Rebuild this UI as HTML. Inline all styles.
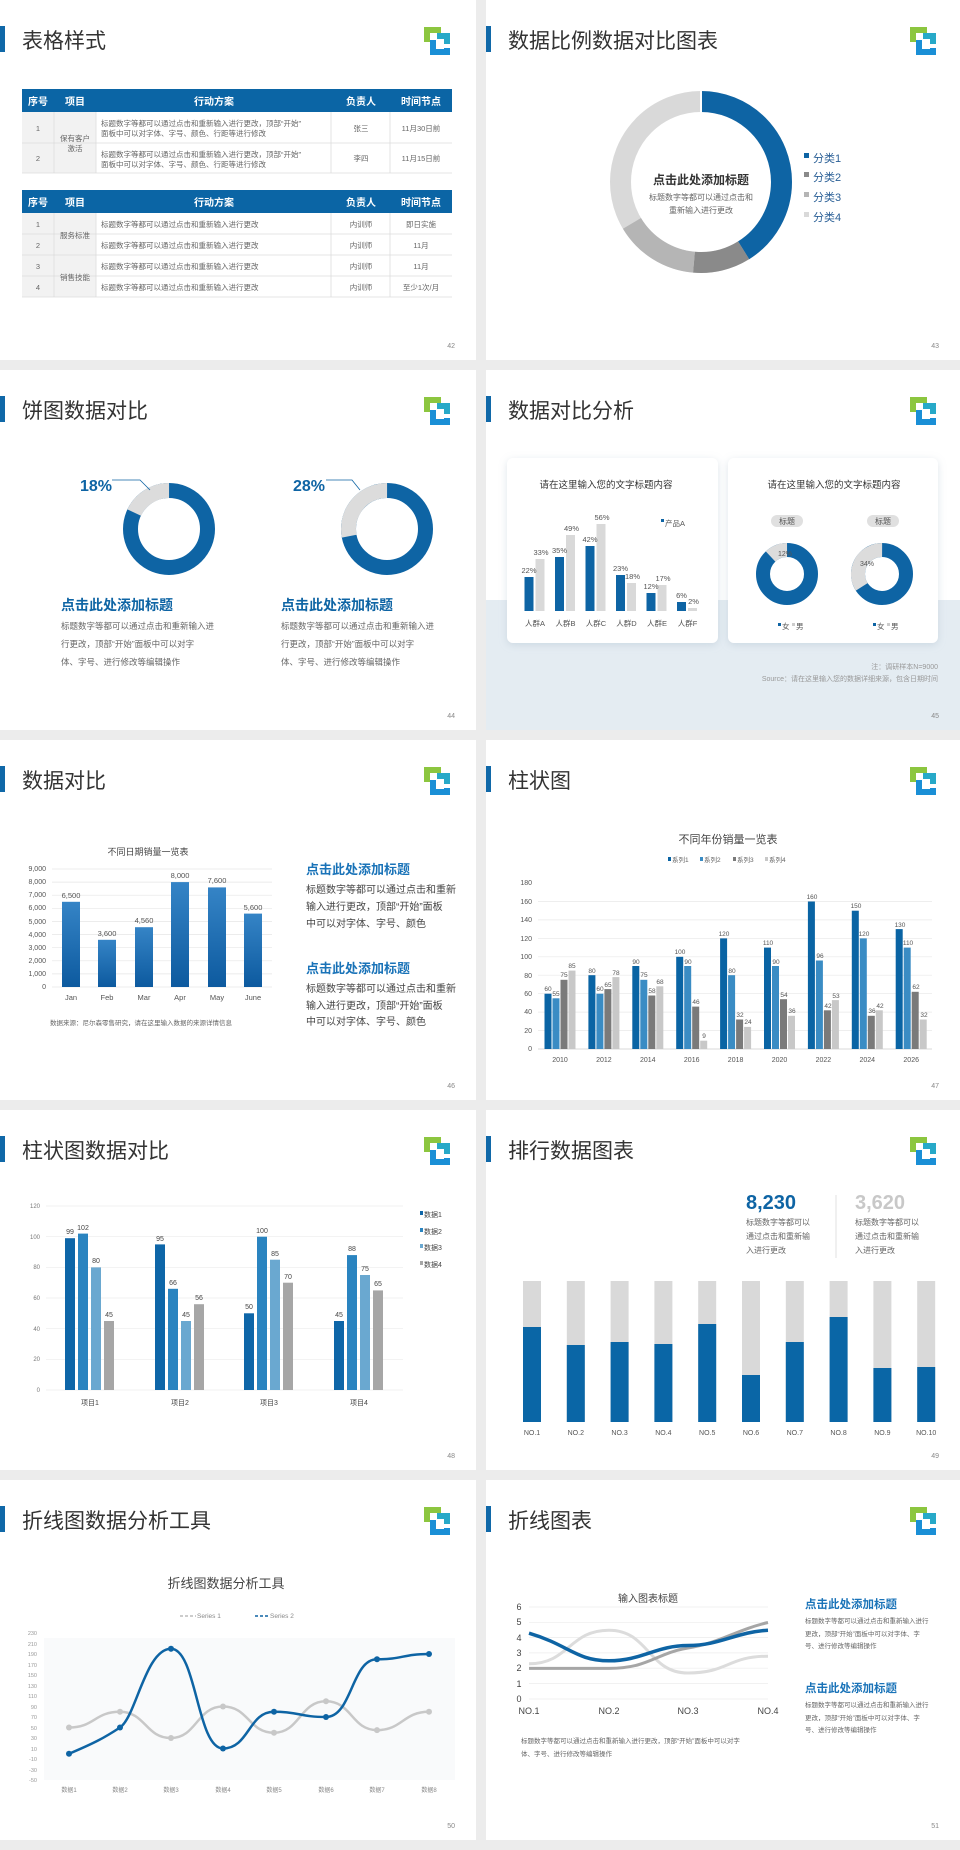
<!DOCTYPE html>
<html><head><meta charset="utf-8">
<style>
html,body{margin:0;padding:0;background:#ececec;}
body{width:960px;height:1850px;position:relative;overflow:hidden;font-family:"Liberation Sans","Noto Sans CJK SC",sans-serif;}
.s{position:absolute;background:#fff;width:476px;height:360px;overflow:hidden;}
.s svg{position:absolute;left:0;top:0;}
text{font-family:"Liberation Sans","Noto Sans CJK SC",sans-serif;}
</style></head><body>

<svg width="0" height="0" style="position:absolute">
<defs>
<g id="hdr-logo">
<path d="M427,42 V30 H441" fill="none" stroke="#8cc63f" stroke-width="6"/>
<path d="M437,36 H447 V44" fill="none" stroke="#27a9c8" stroke-width="6"/>
<path d="M447,48 V52 H433 V40" fill="none" stroke="#1a8fd6" stroke-width="6"/>
</g>
<linearGradient id="bg5" x1="0" y1="0" x2="0" y2="1"><stop offset="0" stop-color="#3584c6"/><stop offset="1" stop-color="#0d5a9f"/></linearGradient>
<filter id="sh" x="-10%" y="-10%" width="120%" height="130%"><feDropShadow dx="0" dy="2" stdDeviation="4" flood-color="#9fb3c4" flood-opacity="0.35"/></filter>
</defs>
</svg>

<!-- Slide 42 table -->
<div class="s" style="left:0;top:0">
<svg width="476" height="360">
<rect x="0" y="26" width="5" height="26" fill="#1068a8"/>
<text x="22" y="48" font-size="21" fill="#333">表格样式</text>
<use href="#hdr-logo"/>
<!-- table 1 -->
<rect x="22" y="89" width="430" height="23" fill="#0b65a5"/>
<g font-size="10" font-weight="bold" fill="#fff" text-anchor="middle">
<text x="38" y="105">序号</text><text x="75" y="105">项目</text><text x="214" y="105">行动方案</text><text x="361" y="105">负责人</text><text x="421" y="105">时间节点</text>
</g>
<rect x="22" y="112" width="74" height="61" fill="#f2f2f2"/>
<g stroke="#dcdcdc" stroke-width="0.8">
<line x1="22" y1="143" x2="452" y2="143"/><line x1="22" y1="173" x2="452" y2="173"/>
<line x1="54" y1="112" x2="54" y2="173"/><line x1="96" y1="112" x2="96" y2="173"/><line x1="331" y1="112" x2="331" y2="173"/><line x1="390" y1="112" x2="390" y2="173"/>
</g>
<g font-size="7.5" fill="#666">
<text x="38" y="131" text-anchor="middle">1</text><text x="38" y="161" text-anchor="middle">2</text>
<text x="75" y="141" text-anchor="middle">保有客户</text><text x="75" y="151" text-anchor="middle">激活</text>
<text x="101" y="126">标题数字等都可以通过点击和重新输入进行更改，顶部“开始”</text>
<text x="101" y="136">面板中可以对字体、字号、颜色、行距等进行修改</text>
<text x="101" y="157">标题数字等都可以通过点击和重新输入进行更改，顶部“开始”</text>
<text x="101" y="167">面板中可以对字体、字号、颜色、行距等进行修改</text>
<text x="361" y="131" text-anchor="middle">张三</text><text x="361" y="161" text-anchor="middle">李四</text>
<text x="421" y="131" text-anchor="middle">11月30日前</text><text x="421" y="161" text-anchor="middle">11月15日前</text>
</g>
<!-- table 2 -->
<rect x="22" y="190" width="430" height="23" fill="#0b65a5"/>
<g font-size="10" font-weight="bold" fill="#fff" text-anchor="middle">
<text x="38" y="206">序号</text><text x="75" y="206">项目</text><text x="214" y="206">行动方案</text><text x="361" y="206">负责人</text><text x="421" y="206">时间节点</text>
</g>
<rect x="22" y="213" width="74" height="84" fill="#f2f2f2"/>
<g stroke="#dcdcdc" stroke-width="0.8">
<line x1="22" y1="234" x2="452" y2="234"/><line x1="22" y1="255" x2="452" y2="255"/><line x1="22" y1="276" x2="452" y2="276"/><line x1="22" y1="297" x2="452" y2="297"/>
<line x1="54" y1="213" x2="54" y2="297"/><line x1="96" y1="213" x2="96" y2="297"/><line x1="331" y1="213" x2="331" y2="297"/><line x1="390" y1="213" x2="390" y2="297"/>
</g>
<g font-size="7.5" fill="#666">
<text x="38" y="227" text-anchor="middle">1</text><text x="38" y="248" text-anchor="middle">2</text><text x="38" y="269" text-anchor="middle">3</text><text x="38" y="290" text-anchor="middle">4</text>
<text x="75" y="238" text-anchor="middle">服务标准</text><text x="75" y="280" text-anchor="middle">销售技能</text>
<text x="101" y="227">标题数字等都可以通过点击和重新输入进行更改</text>
<text x="101" y="248">标题数字等都可以通过点击和重新输入进行更改</text>
<text x="101" y="269">标题数字等都可以通过点击和重新输入进行更改</text>
<text x="101" y="290">标题数字等都可以通过点击和重新输入进行更改</text>
<text x="361" y="227" text-anchor="middle">内训师</text><text x="361" y="248" text-anchor="middle">内训师</text><text x="361" y="269" text-anchor="middle">内训师</text><text x="361" y="290" text-anchor="middle">内训师</text>
<text x="421" y="227" text-anchor="middle">即日实施</text><text x="421" y="248" text-anchor="middle">11月</text><text x="421" y="269" text-anchor="middle">11月</text><text x="421" y="290" text-anchor="middle">至少1次/月</text>
</g>
<text x="455" y="348" font-size="7" fill="#888" text-anchor="end">42</text>
</svg></div>

<!-- Slide 43 donut -->
<div class="s" style="left:486px;top:0;width:474px">
<svg width="474" height="360">
<rect x="0" y="26" width="5" height="26" fill="#1068a8"/>
<text x="22" y="48" font-size="21" fill="#333">数据比例数据对比图表</text>
<use href="#hdr-logo"/>
<g fill="none" stroke-width="21">
<circle cx="215" cy="182" r="80.5" stroke="#d9d9d9"/>
<circle cx="215" cy="182" r="80.5" stroke="#0e64a4" stroke-dasharray="207.9 1000" transform="rotate(-90 215 182)"/>
<circle cx="215" cy="182" r="80.5" stroke="#8a8a8a" stroke-dasharray="52 1000" transform="rotate(58 215 182)"/>
<circle cx="215" cy="182" r="80.5" stroke="#b5b5b5" stroke-dasharray="75.9 1000" transform="rotate(95 215 182)"/>
</g>
<g stroke="#fff" stroke-width="2">
<line x1="215" y1="182" x2="215" y2="90"/>
</g>
<circle cx="215" cy="182" r="69" fill="#fff"/>
<text x="215" y="184" font-size="12" font-weight="bold" fill="#333" text-anchor="middle">点击此处添加标题</text>
<text x="215" y="200" font-size="8" fill="#666" text-anchor="middle">标题数字等都可以通过点击和</text>
<text x="215" y="213" font-size="8" fill="#666" text-anchor="middle">重新输入进行更改</text>
<g font-size="11" fill="#2a5f96">
<rect x="318" y="153" width="5" height="5" fill="#0e64a4"/><text x="327" y="162">分类1</text>
<rect x="318" y="172" width="5" height="5" fill="#8a8a8a"/><text x="327" y="181">分类2</text>
<rect x="318" y="192" width="5" height="5" fill="#b5b5b5"/><text x="327" y="201">分类3</text>
<rect x="318" y="212" width="5" height="5" fill="#d9d9d9"/><text x="327" y="221">分类4</text>
</g>
<text x="453" y="348" font-size="7" fill="#888" text-anchor="end">43</text>
</svg></div>

<!-- Slide 44 pies -->
<div class="s" style="left:0;top:370px">
<svg width="476" height="360">
<rect x="0" y="26" width="5" height="26" fill="#1068a8"/>
<text x="22" y="48" font-size="21" fill="#333">饼图数据对比</text>
<use href="#hdr-logo"/>
<g fill="none" stroke-width="15">
<circle cx="169" cy="159" r="38.5" stroke="#0e64a4"/>
<circle cx="169" cy="159" r="38.5" stroke="#dcdcdc" stroke-dasharray="43.5 1000" transform="rotate(205.2 169 159)"/>
<circle cx="387" cy="159" r="38.5" stroke="#0e64a4"/>
<circle cx="387" cy="159" r="38.5" stroke="#dcdcdc" stroke-dasharray="67.7 1000" transform="rotate(169.2 387 159)"/>
</g>
<text x="80" y="121" font-size="16" font-weight="bold" fill="#0e64a4">18%</text>
<polyline points="112,110 140,110 150,120" fill="none" stroke="#0e64a4" stroke-width="0.8"/>
<text x="293" y="121" font-size="16" font-weight="bold" fill="#0e64a4">28%</text>
<polyline points="326,110 352,110 360,120" fill="none" stroke="#0e64a4" stroke-width="0.8"/>
<text x="61" y="240" font-size="14" font-weight="bold" fill="#0e64a4">点击此处添加标题</text>
<g font-size="8.5" fill="#666"><text x="61" y="259">标题数字等都可以通过点击和重新输入进</text><text x="61" y="277">行更改，顶部“开始”面板中可以对字</text><text x="61" y="295">体、字号、进行修改等编辑操作</text></g>
<text x="281" y="240" font-size="14" font-weight="bold" fill="#0e64a4">点击此处添加标题</text>
<g font-size="8.5" fill="#666"><text x="281" y="259">标题数字等都可以通过点击和重新输入进</text><text x="281" y="277">行更改，顶部“开始”面板中可以对字</text><text x="281" y="295">体、字号、进行修改等编辑操作</text></g>
<text x="455" y="348" font-size="7" fill="#888" text-anchor="end">44</text>
</svg></div>

<!-- Slide 45 -->
<div class="s" style="left:486px;top:370px;width:474px">
<svg width="474" height="360">
<rect x="0" y="230" width="474" height="130" fill="#e4ecf2"/>
<rect x="0" y="26" width="5" height="26" fill="#1068a8"/>
<text x="22" y="48" font-size="21" fill="#333">数据对比分析</text>
<use href="#hdr-logo"/>
<rect x="21" y="88" width="211" height="185" rx="6" fill="#fff" filter="url(#sh)"/>
<rect x="242" y="88" width="210" height="185" rx="6" fill="#fff" filter="url(#sh)"/>
<text x="120" y="118" font-size="9.5" fill="#333" text-anchor="middle">请在这里输入您的文字标题内容</text>
<text x="348" y="118" font-size="9.5" fill="#333" text-anchor="middle">请在这里输入您的文字标题内容</text>
<g fill="#0e64a4">
<rect x="38.5" y="207" width="9" height="34"/><rect x="69" y="187" width="9" height="54"/><rect x="99.5" y="176" width="9" height="65"/><rect x="130" y="205" width="9" height="36"/><rect x="160.5" y="223" width="9" height="18"/><rect x="191" y="232" width="9" height="9"/>
</g>
<g fill="#d9d9d9">
<rect x="49.5" y="189" width="9" height="52"/><rect x="80" y="165" width="9" height="76"/><rect x="110.5" y="154" width="9" height="87"/><rect x="141" y="213" width="9" height="28"/><rect x="171.5" y="215" width="9" height="26"/><rect x="202" y="238" width="9" height="3"/>
</g>
<g font-size="7.5" fill="#555" text-anchor="middle">
<text x="43" y="203">22%</text><text x="73.5" y="183">35%</text><text x="104" y="172">42%</text><text x="134.5" y="201">23%</text><text x="165" y="219">12%</text><text x="195.5" y="228">6%</text>
<text x="55" y="185">33%</text><text x="85.5" y="161">49%</text><text x="116" y="150">56%</text><text x="146.5" y="209">18%</text><text x="177" y="211">17%</text><text x="207.5" y="234">2%</text>
<text x="49" y="256">人群A</text><text x="79.5" y="256">人群B</text><text x="110" y="256">人群C</text><text x="140.5" y="256">人群D</text><text x="171" y="256">人群E</text><text x="201.5" y="256">人群F</text>
</g>
<rect x="175" y="149" width="3" height="3" fill="#0e64a4"/><text x="179" y="156" font-size="7.5" fill="#555">产品A</text>
<rect x="285" y="145" width="32" height="12" rx="6" fill="#e0e0e0"/><text x="301" y="154" font-size="8" fill="#555" text-anchor="middle">标题</text>
<rect x="381" y="145" width="32" height="12" rx="6" fill="#e0e0e0"/><text x="397" y="154" font-size="8" fill="#555" text-anchor="middle">标题</text>
<g fill="none" stroke-width="14">
<circle cx="301" cy="204" r="24" stroke="#0e64a4"/>
<circle cx="301" cy="204" r="24" stroke="#dcdcdc" stroke-dasharray="18.1 1000" transform="rotate(226.8 301 204)"/>
<circle cx="396" cy="204" r="24" stroke="#0e64a4"/>
<circle cx="396" cy="204" r="24" stroke="#dcdcdc" stroke-dasharray="51.3 1000" transform="rotate(147.6 396 204)"/>
</g>
<g font-size="7" fill="#555"><text x="292" y="186">12%</text><text x="374" y="196">34%</text></g>
<g font-size="7.5" fill="#555">
<rect x="292" y="253" width="3" height="3" fill="#0e64a4"/><text x="296" y="259">女</text><rect x="306" y="253" width="3" height="3" fill="#ccc"/><text x="310" y="259">男</text>
<rect x="387" y="253" width="3" height="3" fill="#0e64a4"/><text x="391" y="259">女</text><rect x="401" y="253" width="3" height="3" fill="#ccc"/><text x="405" y="259">男</text>
</g>
<text x="452" y="299" font-size="7" fill="#999" text-anchor="end">注：调研样本N=9000</text>
<text x="452" y="311" font-size="7" fill="#999" text-anchor="end">Source：请在这里输入您的数据详细来源，包含日期时间</text>
<text x="453" y="348" font-size="7" fill="#888" text-anchor="end">45</text>
</svg></div>

<!-- Slide 46 -->
<div class="s" style="left:0;top:740px">
<svg width="476" height="360">
<rect x="0" y="26" width="5" height="26" fill="#1068a8"/>
<text x="22" y="48" font-size="21" fill="#333">数据对比</text>
<use href="#hdr-logo"/>
<text x="148" y="115" font-size="9" fill="#444" text-anchor="middle">不同日期销量一览表</text>
<g stroke="#e6e6e6" stroke-width="0.7">
<line x1="52" y1="129" x2="272" y2="129"/><line x1="52" y1="142.1" x2="272" y2="142.1"/><line x1="52" y1="155.2" x2="272" y2="155.2"/><line x1="52" y1="168.3" x2="272" y2="168.3"/><line x1="52" y1="181.4" x2="272" y2="181.4"/><line x1="52" y1="194.6" x2="272" y2="194.6"/><line x1="52" y1="207.7" x2="272" y2="207.7"/><line x1="52" y1="220.8" x2="272" y2="220.8"/><line x1="52" y1="233.9" x2="272" y2="233.9"/><line x1="52" y1="247" x2="272" y2="247"/>
</g>
<g font-size="7" fill="#555" text-anchor="end">
<text x="46" y="131">9,000</text><text x="46" y="144">8,000</text><text x="46" y="157">7,000</text><text x="46" y="170">6,000</text><text x="46" y="184">5,000</text><text x="46" y="197">4,000</text><text x="46" y="210">3,000</text><text x="46" y="223">2,000</text><text x="46" y="236">1,000</text><text x="46" y="249">0</text>
</g>
<g fill="url(#bg5)">
<rect x="62" y="161.8" width="18" height="85.2"/><rect x="98" y="199.8" width="18" height="47.2"/><rect x="135" y="187.2" width="18" height="59.8"/><rect x="171" y="142.1" width="18" height="104.9"/><rect x="208" y="147.4" width="18" height="99.6"/><rect x="244" y="173.6" width="18" height="73.4"/>
</g>
<g font-size="7.5" fill="#555" text-anchor="middle">
<text x="71" y="158">6,500</text><text x="107" y="196">3,600</text><text x="144" y="183">4,560</text><text x="180" y="138">8,000</text><text x="217" y="143">7,600</text><text x="253" y="170">5,600</text>
<text x="71" y="260">Jan</text><text x="107" y="260">Feb</text><text x="144" y="260">Mar</text><text x="180" y="260">Apr</text><text x="217" y="260">May</text><text x="253" y="260">June</text>
</g>
<text x="50" y="285" font-size="6.5" fill="#666">数据来源：尼尔森零售研究，请在这里输入数据的来源详情信息</text>
<text x="306" y="134" font-size="13" font-weight="bold" fill="#1a73b8">点击此处添加标题</text>
<g font-size="10" fill="#444"><text x="306" y="153">标题数字等都可以通过点击和重新</text><text x="306" y="170">输入进行更改，顶部“开始”面板</text><text x="306" y="187">中可以对字体、字号、颜色</text></g>
<text x="306" y="233" font-size="13" font-weight="bold" fill="#1a73b8">点击此处添加标题</text>
<g font-size="10" fill="#444"><text x="306" y="252">标题数字等都可以通过点击和重新</text><text x="306" y="269">输入进行更改，顶部“开始”面板</text><text x="306" y="285">中可以对字体、字号、颜色</text></g>
<text x="455" y="348" font-size="7" fill="#888" text-anchor="end">46</text>
</svg></div>

<!-- Slide 47 -->
<div class="s" style="left:486px;top:740px;width:474px">
<svg width="474" height="360">
<rect x="0" y="26" width="5" height="26" fill="#1068a8"/>
<text x="22" y="48" font-size="21" fill="#333">柱状图</text>
<use href="#hdr-logo"/>
<text x="242" y="103" font-size="11" fill="#444" text-anchor="middle">不同年份销量一览表</text>
<g font-size="6.5" fill="#666">
<rect x="182" y="117" width="3" height="4" fill="#0a64a4"/><text x="186" y="122">系列1</text>
<rect x="214" y="117" width="3" height="4" fill="#3a8cc4"/><text x="218" y="122">系列2</text>
<rect x="247" y="117" width="3" height="4" fill="#7a7a7a"/><text x="251" y="122">系列3</text>
<rect x="279" y="117" width="3" height="4" fill="#c8c8c8"/><text x="283" y="122">系列4</text>
</g>
<g stroke="#e8e8e8" stroke-width="0.7">
<line x1="52" y1="161.4" x2="446" y2="161.4"/><line x1="52" y1="179.9" x2="446" y2="179.9"/><line x1="52" y1="198.3" x2="446" y2="198.3"/><line x1="52" y1="216.8" x2="446" y2="216.8"/><line x1="52" y1="235.2" x2="446" y2="235.2"/><line x1="52" y1="253.7" x2="446" y2="253.7"/><line x1="52" y1="272.1" x2="446" y2="272.1"/><line x1="52" y1="290.6" x2="446" y2="290.6"/><line x1="52" y1="309" x2="446" y2="309" stroke="#ccc"/>
</g>
<g font-size="7" fill="#555" text-anchor="end">
<text x="46" y="145">180</text><text x="46" y="164">160</text><text x="46" y="182">140</text><text x="46" y="201">120</text><text x="46" y="219">100</text><text x="46" y="238">80</text><text x="46" y="256">60</text><text x="46" y="274">40</text><text x="46" y="293">20</text><text x="46" y="311">0</text>
</g>
<g id="bars6">
<g transform="translate(74,0)"><rect x="-15.5" y="253.7" width="7" height="55.3" fill="#0a64a4"/><rect x="-7.5" y="258.3" width="7" height="50.7" fill="#3a8cc4"/><rect x="0.5" y="239.8" width="7" height="69.2" fill="#7a7a7a"/><rect x="8.5" y="230.6" width="7" height="78.4" fill="#c8c8c8"/></g>
<g transform="translate(117.9,0)"><rect x="-15.5" y="235.2" width="7" height="73.8" fill="#0a64a4"/><rect x="-7.5" y="253.7" width="7" height="55.3" fill="#3a8cc4"/><rect x="0.5" y="249.1" width="7" height="59.9" fill="#7a7a7a"/><rect x="8.5" y="237.1" width="7" height="71.9" fill="#c8c8c8"/></g>
<g transform="translate(161.8,0)"><rect x="-15.5" y="226" width="7" height="83" fill="#0a64a4"/><rect x="-7.5" y="239.8" width="7" height="69.2" fill="#3a8cc4"/><rect x="0.5" y="255.5" width="7" height="53.5" fill="#7a7a7a"/><rect x="8.5" y="246.3" width="7" height="62.7" fill="#c8c8c8"/></g>
<g transform="translate(205.7,0)"><rect x="-15.5" y="216.8" width="7" height="92.2" fill="#0a64a4"/><rect x="-7.5" y="226" width="7" height="83" fill="#3a8cc4"/><rect x="0.5" y="266.6" width="7" height="42.4" fill="#7a7a7a"/><rect x="8.5" y="300.7" width="7" height="8.3" fill="#c8c8c8"/></g>
<g transform="translate(249.6,0)"><rect x="-15.5" y="198.4" width="7" height="110.6" fill="#0a64a4"/><rect x="-7.5" y="235.2" width="7" height="73.8" fill="#3a8cc4"/><rect x="0.5" y="279.5" width="7" height="29.5" fill="#7a7a7a"/><rect x="8.5" y="286.9" width="7" height="22.1" fill="#c8c8c8"/></g>
<g transform="translate(293.5,0)"><rect x="-15.5" y="207.6" width="7" height="101.4" fill="#0a64a4"/><rect x="-7.5" y="226" width="7" height="83" fill="#3a8cc4"/><rect x="0.5" y="259.2" width="7" height="49.8" fill="#7a7a7a"/><rect x="8.5" y="275.8" width="7" height="33.2" fill="#c8c8c8"/></g>
<g transform="translate(337.4,0)"><rect x="-15.5" y="161.5" width="7" height="147.5" fill="#0a64a4"/><rect x="-7.5" y="220.5" width="7" height="88.5" fill="#3a8cc4"/><rect x="0.5" y="270.3" width="7" height="38.7" fill="#7a7a7a"/><rect x="8.5" y="260.1" width="7" height="48.9" fill="#c8c8c8"/></g>
<g transform="translate(381.3,0)"><rect x="-15.5" y="170.7" width="7" height="138.3" fill="#0a64a4"/><rect x="-7.5" y="198.4" width="7" height="110.6" fill="#3a8cc4"/><rect x="0.5" y="275.8" width="7" height="33.2" fill="#7a7a7a"/><rect x="8.5" y="270.3" width="7" height="38.7" fill="#c8c8c8"/></g>
<g transform="translate(425.2,0)"><rect x="-15.5" y="189.1" width="7" height="119.9" fill="#0a64a4"/><rect x="-7.5" y="207.6" width="7" height="101.4" fill="#3a8cc4"/><rect x="0.5" y="251.8" width="7" height="57.2" fill="#7a7a7a"/><rect x="8.5" y="279.5" width="7" height="29.5" fill="#c8c8c8"/></g>
</g>
<g font-size="6.5" fill="#555" text-anchor="middle">
<text x="62" y="251">60</text><text x="70" y="256">55</text><text x="78" y="237">75</text><text x="86" y="228">85</text>
<text x="106" y="233">80</text><text x="114" y="251">60</text><text x="122" y="247">65</text><text x="130" y="235">78</text>
<text x="150" y="224">90</text><text x="158" y="237">75</text><text x="166" y="253">58</text><text x="174" y="244">68</text>
<text x="194" y="214">100</text><text x="202" y="224">90</text><text x="210" y="264">46</text><text x="218" y="298">9</text>
<text x="238" y="196">120</text><text x="246" y="233">80</text><text x="254" y="277">32</text><text x="262" y="284">24</text>
<text x="282" y="205">110</text><text x="290" y="224">90</text><text x="298" y="257">54</text><text x="306" y="273">36</text>
<text x="326" y="159">160</text><text x="334" y="218">96</text><text x="342" y="268">42</text><text x="350" y="258">53</text>
<text x="370" y="168">150</text><text x="378" y="196">120</text><text x="386" y="273">36</text><text x="394" y="268">42</text>
<text x="414" y="187">130</text><text x="422" y="205">110</text><text x="430" y="249">62</text><text x="438" y="277">32</text>
</g>
<g font-size="7" fill="#555" text-anchor="middle">
<text x="74" y="322">2010</text><text x="117.9" y="322">2012</text><text x="161.8" y="322">2014</text><text x="205.7" y="322">2016</text><text x="249.6" y="322">2018</text><text x="293.5" y="322">2020</text><text x="337.4" y="322">2022</text><text x="381.3" y="322">2024</text><text x="425.2" y="322">2026</text>
</g>
<text x="453" y="348" font-size="7" fill="#888" text-anchor="end">47</text>
</svg></div>

<!-- Slide 48 -->
<div class="s" style="left:0;top:1110px">
<svg width="476" height="360">
<rect x="0" y="26" width="5" height="26" fill="#1068a8"/>
<text x="22" y="48" font-size="21" fill="#333">柱状图数据对比</text>
<use href="#hdr-logo"/>
<g stroke="#ececec" stroke-width="0.7">
<line x1="46" y1="96" x2="403" y2="96"/><line x1="46" y1="126.7" x2="403" y2="126.7"/><line x1="46" y1="157.3" x2="403" y2="157.3"/><line x1="46" y1="188" x2="403" y2="188"/><line x1="46" y1="218.7" x2="403" y2="218.7"/><line x1="46" y1="249.3" x2="403" y2="249.3"/><line x1="46" y1="280" x2="403" y2="280"/>
</g>
<g font-size="6" fill="#777" text-anchor="end">
<text x="40" y="98">120</text><text x="40" y="129">100</text><text x="40" y="159">80</text><text x="40" y="190">60</text><text x="40" y="221">40</text><text x="40" y="251">20</text><text x="40" y="282">0</text>
</g>
<g>
<rect x="65" y="128.2" width="10" height="151.8" fill="#0e66a8"/><rect x="78" y="123.6" width="10" height="156.4" fill="#2a84c0"/><rect x="91" y="157.4" width="10" height="122.6" fill="#6aa8d0"/><rect x="104" y="211" width="10" height="69" fill="#a6a6a6"/>
<rect x="155" y="134.4" width="10" height="145.6" fill="#0e66a8"/><rect x="168" y="178.8" width="10" height="101.2" fill="#2a84c0"/><rect x="181" y="211" width="10" height="69" fill="#6aa8d0"/><rect x="194" y="194.2" width="10" height="85.8" fill="#a6a6a6"/>
<rect x="244" y="203.3" width="10" height="76.7" fill="#0e66a8"/><rect x="257" y="126.7" width="10" height="153.3" fill="#2a84c0"/><rect x="270" y="149.7" width="10" height="130.3" fill="#6aa8d0"/><rect x="283" y="172.7" width="10" height="107.3" fill="#a6a6a6"/>
<rect x="334" y="211" width="10" height="69" fill="#0e66a8"/><rect x="347" y="145.1" width="10" height="134.9" fill="#2a84c0"/><rect x="360" y="165" width="10" height="115" fill="#6aa8d0"/><rect x="373" y="180.4" width="10" height="99.6" fill="#a6a6a6"/>
</g>
<g font-size="7" fill="#444" text-anchor="middle">
<text x="70" y="124">99</text><text x="83" y="120">102</text><text x="96" y="153">80</text><text x="109" y="207">45</text>
<text x="160" y="131">95</text><text x="173" y="175">66</text><text x="186" y="207">45</text><text x="199" y="190">56</text>
<text x="249" y="199">50</text><text x="262" y="123">100</text><text x="275" y="146">85</text><text x="288" y="169">70</text>
<text x="339" y="207">45</text><text x="352" y="141">88</text><text x="365" y="161">75</text><text x="378" y="176">65</text>
<text x="90" y="295">项目1</text><text x="180" y="295">项目2</text><text x="269" y="295">项目3</text><text x="359" y="295">项目4</text>
</g>
<g font-size="7" fill="#444">
<rect x="420" y="101" width="3" height="4" fill="#0e66a8"/><text x="424" y="107">数据1</text>
<rect x="420" y="118" width="3" height="4" fill="#2a84c0"/><text x="424" y="124">数据2</text>
<rect x="420" y="134" width="3" height="4" fill="#6aa8d0"/><text x="424" y="140">数据3</text>
<rect x="420" y="151" width="3" height="4" fill="#a6a6a6"/><text x="424" y="157">数据4</text>
</g>
<text x="455" y="348" font-size="7" fill="#888" text-anchor="end">48</text>
</svg></div>

<!-- Slide 49 -->
<div class="s" style="left:486px;top:1110px;width:474px">
<svg width="474" height="360">
<rect x="0" y="26" width="5" height="26" fill="#1068a8"/>
<text x="22" y="48" font-size="21" fill="#333">排行数据图表</text>
<use href="#hdr-logo"/>
<text x="260" y="99" font-size="20" font-weight="bold" fill="#0e64a4">8,230</text>
<g font-size="8" fill="#666"><text x="260" y="115">标题数字等都可以</text><text x="260" y="129">通过点击和重新输</text><text x="260" y="143">入进行更改</text></g>
<line x1="350" y1="85" x2="350" y2="148" stroke="#e2e2e2" stroke-width="1"/>
<text x="369" y="99" font-size="20" font-weight="bold" fill="#c8c8c8">3,620</text>
<g font-size="8" fill="#666"><text x="369" y="115">标题数字等都可以</text><text x="369" y="129">通过点击和重新输</text><text x="369" y="143">入进行更改</text></g>
<g fill="#d9d9d9">
<rect x="37" y="171" width="18" height="141"/><rect x="80.8" y="171" width="18" height="141"/><rect x="124.6" y="171" width="18" height="141"/><rect x="168.4" y="171" width="18" height="141"/><rect x="212.2" y="171" width="18" height="141"/><rect x="256" y="171" width="18" height="141"/><rect x="299.8" y="171" width="18" height="141"/><rect x="343.6" y="171" width="18" height="141"/><rect x="387.4" y="171" width="18" height="141"/><rect x="431.2" y="171" width="18" height="141"/>
</g>
<g fill="#0a66a6">
<rect x="37" y="217" width="18" height="95"/><rect x="80.8" y="235" width="18" height="77"/><rect x="124.6" y="232" width="18" height="80"/><rect x="168.4" y="234" width="18" height="78"/><rect x="212.2" y="214" width="18" height="98"/><rect x="256" y="265" width="18" height="47"/><rect x="299.8" y="232" width="18" height="80"/><rect x="343.6" y="207" width="18" height="105"/><rect x="387.4" y="258" width="18" height="54"/><rect x="431.2" y="257" width="18" height="55"/>
</g>
<g font-size="7" fill="#555" text-anchor="middle">
<text x="46" y="325">NO.1</text><text x="89.8" y="325">NO.2</text><text x="133.6" y="325">NO.3</text><text x="177.4" y="325">NO.4</text><text x="221.2" y="325">NO.5</text><text x="265" y="325">NO.6</text><text x="308.8" y="325">NO.7</text><text x="352.6" y="325">NO.8</text><text x="396.4" y="325">NO.9</text><text x="440.2" y="325">NO.10</text>
</g>
<text x="453" y="348" font-size="7" fill="#888" text-anchor="end">49</text>
</svg></div>

<!-- Slide 50 -->
<div class="s" style="left:0;top:1480px">
<svg width="476" height="360">
<rect x="0" y="26" width="5" height="26" fill="#1068a8"/>
<text x="22" y="48" font-size="21" fill="#333">折线图数据分析工具</text>
<use href="#hdr-logo"/>
<text x="226" y="108" font-size="13" fill="#444" text-anchor="middle">折线图数据分析工具</text>
<g font-size="6.5" fill="#888">
<line x1="180" y1="136" x2="196" y2="136" stroke="#bbb" stroke-width="1.5" stroke-dasharray="3 2"/><text x="197" y="138">Series 1</text>
<line x1="255" y1="136" x2="270" y2="136" stroke="#0e64a4" stroke-width="1.5" stroke-dasharray="3 2"/><text x="270" y="138">Series 2</text>
</g>
<rect x="44" y="158" width="411" height="142" fill="#f9fafb"/>
<g font-size="5.5" fill="#999" text-anchor="end">
<text x="37" y="155">230</text><text x="37" y="166">210</text><text x="37" y="176">190</text><text x="37" y="187">170</text><text x="37" y="197">150</text><text x="37" y="208">130</text><text x="37" y="218">110</text><text x="37" y="229">90</text><text x="37" y="239">70</text><text x="37" y="250">50</text><text x="37" y="260">30</text><text x="37" y="271">10</text><text x="37" y="281">-10</text><text x="37" y="292">-30</text><text x="37" y="302">-50</text>
</g>
<path d="M69,247.5 C94.5,247.5 94.5,231.8 120,231.8 S145.5,258 171,258 S197,226.5 223,226.5 S248.5,252.8 274,252.8 S300,221.3 326,221.3 S351.5,250.1 377,250.1 S403,231.8 429,231.8" fill="none" stroke="#c8c8c8" stroke-width="2.5"/>
<g fill="#c8c8c8"><circle cx="69" cy="247.5" r="3"/><circle cx="120" cy="231.8" r="3"/><circle cx="171" cy="258" r="3"/><circle cx="223" cy="226.5" r="3"/><circle cx="274" cy="252.8" r="3"/><circle cx="326" cy="221.3" r="3"/><circle cx="377" cy="250.1" r="3"/><circle cx="429" cy="231.8" r="3"/></g>
<path d="M69,273.8 C94.5,263 104,258 120,247.5 S145.5,168.8 171,168.8 S197,268.5 223,268.5 S248.5,231.8 274,231.8 S300,237 326,237 S351.5,179.3 377,179.3 S403,174 429,174" fill="none" stroke="#0e64a4" stroke-width="2.5"/>
<g fill="#0e64a4"><circle cx="69" cy="273.8" r="3"/><circle cx="120" cy="247.5" r="3"/><circle cx="171" cy="168.8" r="3"/><circle cx="223" cy="268.5" r="3"/><circle cx="274" cy="231.8" r="3"/><circle cx="326" cy="237" r="3"/><circle cx="377" cy="179.3" r="3"/><circle cx="429" cy="174" r="3"/></g>
<g font-size="6" fill="#888" text-anchor="middle">
<text x="69" y="312">数据1</text><text x="120" y="312">数据2</text><text x="171" y="312">数据3</text><text x="223" y="312">数据4</text><text x="274" y="312">数据5</text><text x="326" y="312">数据6</text><text x="377" y="312">数据7</text><text x="429" y="312">数据8</text>
</g>
<text x="455" y="348" font-size="7" fill="#888" text-anchor="end">50</text>
</svg></div>

<!-- Slide 51 -->
<div class="s" style="left:486px;top:1480px;width:474px">
<svg width="474" height="360">
<rect x="0" y="26" width="5" height="26" fill="#1068a8"/>
<text x="22" y="48" font-size="21" fill="#333">折线图表</text>
<use href="#hdr-logo"/>
<text x="162" y="122" font-size="10" fill="#444" text-anchor="middle">输入图表标题</text>
<g stroke="#ececec" stroke-width="0.7">
<line x1="43" y1="127" x2="282" y2="127"/><line x1="43" y1="142.3" x2="282" y2="142.3"/><line x1="43" y1="157.6" x2="282" y2="157.6"/><line x1="43" y1="172.9" x2="282" y2="172.9"/><line x1="43" y1="188.2" x2="282" y2="188.2"/><line x1="43" y1="203.5" x2="282" y2="203.5"/><line x1="43" y1="219" x2="282" y2="219"/>
</g>
<g font-size="9" fill="#444" text-anchor="middle">
<text x="33" y="130">6</text><text x="33" y="145">5</text><text x="33" y="161">4</text><text x="33" y="176">3</text><text x="33" y="191">2</text><text x="33" y="207">1</text><text x="33" y="222">0</text>
<text x="43" y="234">NO.1</text><text x="123" y="234">NO.2</text><text x="202" y="234">NO.3</text><text x="282" y="234">NO.4</text>
</g>
<path d="M43,183.8 C83,183.8 83,150.2 123,150.2 S162,193 202,193 S242,176.2 282,176.2" fill="none" stroke="#dcdcdc" stroke-width="3"/>
<path d="M43,188.4 C83,188.4 83,188.4 123,188.4 S170,173.1 202,168 S250,150 282,142.5" fill="none" stroke="#a6a6a6" stroke-width="3"/>
<path d="M43,153.2 C83,165 90,180.8 123,180.8 S170,165.5 202,165.5 S250,152 282,150.2" fill="none" stroke="#0e64a4" stroke-width="3.5"/>
<g font-size="6.5" fill="#666"><text x="35" y="263">标题数字等都可以通过点击和重新输入进行更改，顶部“开始”面板中可以对字</text><text x="35" y="276">体、字号、进行修改等编辑操作</text></g>
<text x="319" y="128" font-size="11.5" font-weight="bold" fill="#1a73b8">点击此处添加标题</text>
<g font-size="6.5" fill="#666"><text x="319" y="143">标题数字等都可以通过点击和重新输入进行</text><text x="319" y="156">更改，顶部“开始”面板中可以对字体、字</text><text x="319" y="168">号、进行修改等编辑操作</text></g>
<text x="319" y="212" font-size="11.5" font-weight="bold" fill="#1a73b8">点击此处添加标题</text>
<g font-size="6.5" fill="#666"><text x="319" y="227">标题数字等都可以通过点击和重新输入进行</text><text x="319" y="240">更改，顶部“开始”面板中可以对字体、字</text><text x="319" y="252">号、进行修改等编辑操作</text></g>
<text x="453" y="348" font-size="7" fill="#888" text-anchor="end">51</text>
</svg></div>

</body></html>
